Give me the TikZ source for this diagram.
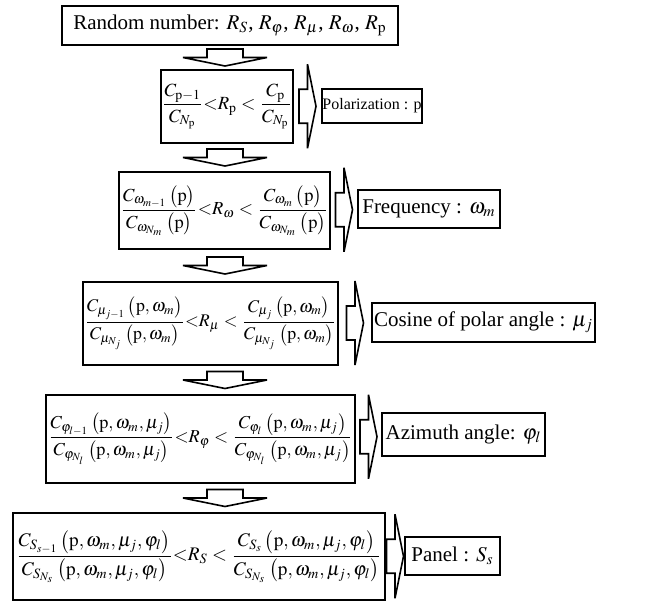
\documentclass[tikz,border=0pt]{standalone}
\usepackage{mathptmx}
\usepackage{amsmath}
\usepackage{fontspec}
\setmainfont{Liberation Serif}
\usetikzlibrary{calc}

\tikzset{
  mainbox/.style={draw, line width=1.3pt, inner sep=0pt, align=center},
  sidebox/.style={draw, line width=1.3pt, inner sep=0pt},
  pt/.style={font=\fontsize{#1}{#1}\selectfont},
  blockline/.style={draw, line width=0.8pt, line join=miter, fill=white},
  downblock/.pic={\path[blockline] (-18,-8.5) -- (18,-8.5) -- (18,0) -- (42,0) -- (0,8.5) -- (-42,0) -- (-18,0) -- cycle;},
  rightblock/.pic={\path[blockline] (-8.5,-17) -- (0,-17) -- (0,-42) -- (8.5,0) -- (0,42) -- (0,17) -- (-8.5,17) -- cycle;}
}
\newcommand{\rp}{\mathrm{p}}

\begin{document}
\begin{tikzpicture}[x=0.5pt, y=-0.5pt, font=\fontsize{10.5}{12.6}\selectfont]
  \useasboundingbox (0,0) rectangle (670,602);
  \coordinate (axis) at (225,0);

  %--- Main column ---
  \node[mainbox, minimum width=168pt, minimum height=19.5pt] (rnd) at (230,25.5)
    {Random number: $R_S$, $R_\varphi$, $R_\mu$, $R_\omega$, $R_{\rp}$};
  \node[mainbox, pt=9.3, minimum width=66pt, minimum height=36.5pt] (cp) at (227,106.5)
    {$\dfrac{C_{\rp-1}}{C_{N_{\rp}}}{<}R_{\rp}<\dfrac{C_{\rp}}{C_{N_{\rp}}}$};
  \node[mainbox, pt=9.2, minimum width=105.5pt, minimum height=38.5pt] (cw) at (224.5,210.5)
    {$\dfrac{C_{\omega_{m-1}}\,\bigl(\rp\bigr)}{C_{\omega_{N_m}}\,\bigl(\rp\bigr)}{<}R_\omega<\dfrac{C_{\omega_m}\,\bigl(\rp\bigr)}{C_{\omega_{N_m}}\,\bigl(\rp\bigr)}$};
  \node[mainbox, pt=8.9, minimum width=127.5pt, minimum height=41.5pt] (cmu) at (210.5,323.5)
    {$\dfrac{C_{\mu_{j-1}}\,\bigl(\rp,\omega_m\bigr)}{C_{\mu_{N_j}}\,\bigl(\rp,\omega_m\bigr)}{<}R_\mu<\dfrac{C_{\mu_j}\,\bigl(\rp,\omega_m\bigr)}{C_{\mu_{N_j}}\,\bigl(\rp,\omega_m\bigr)}$};
  \node[mainbox, pt=9.1, minimum width=154.5pt, minimum height=44pt] (cphi) at (200.5,439)
    {$\dfrac{C_{\varphi_{l-1}}\,\bigl(\rp,\omega_m,\mu_j\bigr)}{C_{\varphi_{N_l}}\,\bigl(\rp,\omega_m,\mu_j\bigr)}{<}R_\varphi<\dfrac{C_{\varphi_l}\,\bigl(\rp,\omega_m,\mu_j\bigr)}{C_{\varphi_{N_l}}\,\bigl(\rp,\omega_m,\mu_j\bigr)}$};
  \node[mainbox, pt=9.6, minimum width=186pt, minimum height=43.5pt] (cs) at (199,556.5)
    {$\dfrac{C_{S_{s-1}}\,\bigl(\rp,\omega_m,\mu_j,\varphi_l\bigr)}{C_{S_{N_s}}\,\bigl(\rp,\omega_m,\mu_j,\varphi_l\bigr)}{<}R_S<\dfrac{C_{S_s}\,\bigl(\rp,\omega_m,\mu_j,\varphi_l\bigr)}{C_{S_{N_s}}\,\bigl(\rp,\omega_m,\mu_j,\varphi_l\bigr)}$};

  %--- Results ---
  \node[sidebox, pt=8, minimum width=50pt, minimum height=17pt] (lp) at (372,106) {Polarization : p};
  \node[sidebox, minimum width=71pt, minimum height=19pt] (lw) at (429,209) {Frequency : $\omega_m$};
  \node[sidebox, minimum width=111.5pt, minimum height=19.5pt] (lmu) at (483.5,322.5) {Cosine of polar angle : $\mu_j$};
  \node[sidebox, minimum width=81.5pt, minimum height=21.5pt] (lphi) at (463.5,434.5) {Azimuth angle: $\varphi_l$};
  \node[sidebox, minimum width=47.5pt, minimum height=19pt] (ls) at (452.5,556) {Panel : $S_s$};

  %--- Block arrows ---
  \foreach \a/\b in {rnd/cp, cp/cw, cw/cmu, cmu/cphi, cphi/cs}
    \pic at ($(\a.south -| axis)!0.5!(\b.north -| axis)$) {downblock};
  \foreach \a/\b in {cp/lp, cw/lw, cmu/lmu, cphi/lphi, cs/ls}
    \pic at ($(\a.east)!0.5!(\b.west)$) {rightblock};

\end{tikzpicture}
\end{document}
